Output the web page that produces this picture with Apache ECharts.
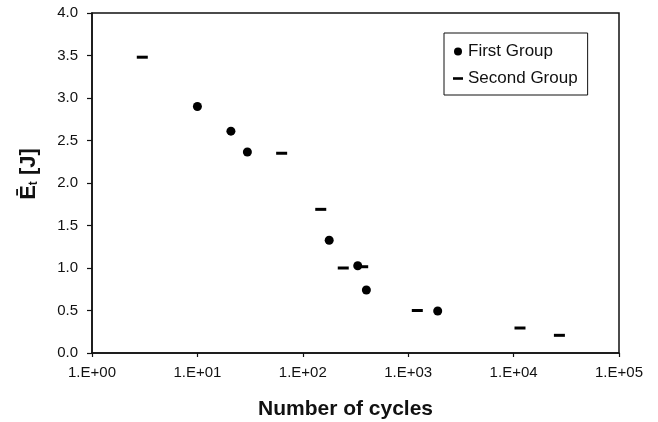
<!DOCTYPE html>
<html>
<head>
<meta charset="utf-8">
<script src="https://cdn.jsdelivr.net/npm/echarts@6/dist/echarts.min.js"></script>
<style>
html,body{margin:0;padding:0;background:#fff;}
#chart{width:658px;height:422px;}
</style>
</head>
<body>
<div id="chart"></div>
<script>
// Data
var seriesNames = ['First Group', 'Second Group'];
var firstX = [10, 20.8, 29.8, 178, 332, 401, 1905];
var firstY = [2.90, 2.61, 2.365, 1.326, 1.027, 0.741, 0.494];
var secondX = [3, 63, 148, 242, 370, 1220, 11500, 27200];
var secondY = [3.48, 2.35, 1.69, 1.00, 1.015, 0.50, 0.294, 0.208];
var yTicks = [0, 0.5, 1.0, 1.5, 2.0, 2.5, 3.0, 3.5, 4.0];
var xTickExponents = [0, 1, 2, 3, 4, 5];

function pairs(xs, ys) {
  return xs.map(function (x, i) { return [x, ys[i]]; });
}

var FONT = "'Liberation Sans', Arial, sans-serif";
var chart = echarts.init(document.getElementById('chart'), null, {renderer: 'canvas'});
chart.setOption({
  backgroundColor: '#ffffff',
  animation: false,
  textStyle: {fontFamily: FONT, color: '#111'},
  grid: {
    left: 92, right: 39, top: 13, bottom: 69,
    outerBoundsMode: 'none',
    containLabel: false,
    show: true, borderColor: '#111', borderWidth: 1.5, backgroundColor: 'transparent'
  },
  legend: {
    orient: 'vertical',
    left: 444, top: 33,
    padding: [10, 10, 8, 9],
    itemGap: 10,
    itemWidth: 10, itemHeight: 8,
    backgroundColor: '#fff',
    borderColor: '#111', borderWidth: 1, borderRadius: 0,
    textStyle: {fontFamily: FONT, fontSize: 17, color: '#111'},
    data: [
      {name: seriesNames[0], icon: 'circle'},
      {name: seriesNames[1], icon: 'path://M0,0 L10,0 L10,2.6 L0,2.6 Z'}
    ]
  },
  xAxis: {
    type: 'log',
    logBase: 10,
    min: Math.pow(10, xTickExponents[0]),
    max: Math.pow(10, xTickExponents[xTickExponents.length - 1]),
    splitNumber: xTickExponents.length - 1,
    name: 'Number of cycles',
    nameLocation: 'middle',
    nameGap: 46,
    nameTextStyle: {fontFamily: FONT, fontSize: 21, fontWeight: 'bold', color: '#111', padding: [0, 20, 0, 0]},
    axisLine: {show: true, lineStyle: {color: '#111', width: 1.5}},
    axisTick: {show: true, inside: false, length: 4, lineStyle: {color: '#111', width: 1.2}},
    minorTick: {show: false},
    splitLine: {show: false},
    axisLabel: {
      fontFamily: FONT, fontSize: 15, color: '#111', margin: 12,
      formatter: function (v) {
        var e = Math.round(Math.log10(v));
        return '1.E+' + (e < 10 ? '0' + e : '' + e);
      }
    }
  },
  yAxis: {
    type: 'value',
    min: yTicks[0], max: yTicks[yTicks.length - 1], interval: yTicks[1] - yTicks[0],
    name: '{a|\u0112}{b|t}{a| [J]}',
    nameLocation: 'middle',
    nameRotate: 90,
    nameGap: 52,
    nameTextStyle: {
      padding: [0, 0, 0, 18],
      rich: {
        a: {fontFamily: FONT, fontSize: 22, fontWeight: 'bold', color: '#111'},
        b: {fontFamily: FONT, fontSize: 12, fontWeight: 'bold', color: '#111', verticalAlign: 'bottom', padding: [8, 0, 0, 0]}
      }
    },
    axisLine: {show: true, lineStyle: {color: '#111', width: 1.5}},
    axisTick: {show: true, inside: false, length: 5, lineStyle: {color: '#111', width: 1.2}},
    splitLine: {show: false},
    axisLabel: {
      fontFamily: FONT, fontSize: 15, color: '#111', margin: 14,
      formatter: function (v) { return v.toFixed(1); }
    }
  },
  series: [
    {
      name: seriesNames[0], type: 'scatter',
      symbol: 'circle', symbolSize: 9,
      itemStyle: {color: '#000', opacity: 1},
      data: pairs(firstX, firstY)
    },
    {
      name: seriesNames[1], type: 'scatter',
      symbol: 'rect', symbolSize: [11, 3],
      itemStyle: {color: '#000', opacity: 1},
      data: pairs(secondX, secondY)
    }
  ]
});
</script>
</body>
</html>
